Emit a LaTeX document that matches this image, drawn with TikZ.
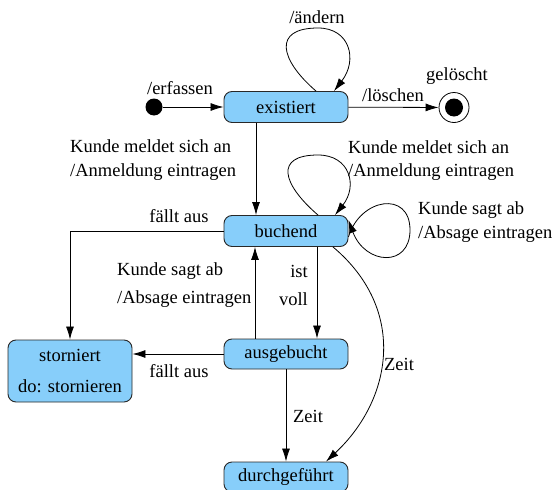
\documentclass[tikz,border=0pt]{standalone}
\usepackage{fontspec}
\setmainfont{Liberation Serif}
\usetikzlibrary{arrows.meta}

\definecolor{statefill}{RGB}{135,206,250}
\definecolor{stateline}{RGB}{40,40,40}

\tikzset{
  lbl/.style={font=\fontsize{18.5}{22}\selectfont, inner sep=0pt},
  state/.style={draw=stateline, line width=0.9pt, fill=statefill,
    rounded corners=8pt, minimum width=124pt, minimum height=31pt,
    inner sep=0pt, font=\fontsize{18.5}{22}\selectfont},
  arr/.style={line width=0.8pt, -{Latex[length=13pt,width=8pt]}},
}

\begin{document}
\begin{tikzpicture}[x=1pt, y=-1pt]
  \useasboundingbox (0,0) rectangle (552,490);

  % states
  \node[circle, fill=black, minimum size=17pt, inner sep=0pt] (init) at (154,107) {};
  \node[state] (existiert) at (286,107) {existiert};
  \node[circle, draw, line width=0.8pt, minimum size=30pt, inner sep=0pt] (geloescht) at (454,107.5) {};
  \node[circle, fill=black, minimum size=18pt, inner sep=0pt] (geloeschtdot) at (geloescht) {};
  \node[state] (buchend) at (286,231) {buchend};
  \node[state, minimum height=62pt, align=center,
        font=\fontsize{18.5}{31}\selectfont] (storniert) at (70,371) {storniert\\do: stornieren};
  \node[state, minimum height=30pt] (ausgebucht) at (286,354) {ausgebucht};
  \node[state, minimum height=30pt] (durchgefuehrt) at (286,477) {durchgeführt};

  % transitions
  \draw[arr] (init) -- (existiert);
  \draw[arr] (existiert) -- (geloescht);
  \draw[arr] ([xshift=30pt]existiert.north) .. controls (280,60) and (272,28) .. (318,28)
             .. controls (350,28) and (358,60) .. ([xshift=48pt]existiert.north);
  \draw[arr] ([xshift=-30pt]existiert.south) -- ([xshift=-30pt]buchend.north);
  \draw[arr] ([xshift=32pt]buchend.north) .. controls (282,184) and (274,155) .. (318,155)
             .. controls (350,155) and (358,186) .. ([xshift=49pt]buchend.north);
  \draw[arr] ([yshift=-6pt]buchend.east) .. controls (360,198) and (410,190) .. (410,230)
             .. controls (410,268) and (365,265) .. ([yshift=11pt]buchend.east);
  \draw[arr] (buchend.west) -| (storniert.north);
  \draw[arr] ([xshift=31pt]buchend.south) -- ([xshift=31pt]ausgebucht.north);
  \draw[arr] ([xshift=-31pt]ausgebucht.north) -- ([xshift=-31pt]buchend.south);
  \draw[arr] (ausgebucht.west) -- (storniert.east |- ausgebucht.west);
  \draw[arr] (ausgebucht) -- (durchgefuehrt);
  \draw[arr] ([xshift=47pt]buchend.south) .. controls (408,310) and (392,400) .. ([xshift=40pt]durchgefuehrt.north);

  % transition labels
  \node[lbl] (terfassen) at (180,88) {/erfassen};
  \node[lbl] (taendern) at (317,17) {/ändern};
  \node[lbl] (tloeschen) at (393,95) {/löschen};
  \node[lbl] (tgeloescht) at (457,76) {gelöscht};
  \node[lbl, anchor=west] (tmeldet1) at (70,146) {Kunde meldet sich an};
  \node[lbl, anchor=west] (tmeldet2) at (70,172) {/Anmeldung eintragen};
  \node[lbl, anchor=west] (tmeldet3) at (348,147) {Kunde meldet sich an};
  \node[lbl, anchor=west] (tmeldet4) at (348,172) {/Anmeldung eintragen};
  \node[lbl, anchor=west] (tsagt1) at (418,210) {Kunde sagt ab};
  \node[lbl, anchor=west] (tsagt2) at (418,234) {/Absage eintragen};
  \node[lbl] (tfaellt1) at (179,216) {fällt aus};
  \node[lbl] (tfaellt2) at (179,371) {fällt aus};
  \node[lbl, anchor=west] (tsagt3) at (117,271) {Kunde sagt ab};
  \node[lbl, anchor=west] (tsagt4) at (117,299) {/Absage eintragen};
  \node[lbl, anchor=east] (tist) at (308,271) {ist};
  \node[lbl, anchor=east] (tvoll) at (308,299) {voll};
  \node[lbl] (tzeit1) at (399,364) {Zeit};
  \node[lbl] (tzeit2) at (308,416) {Zeit};
\end{tikzpicture}
\end{document}
